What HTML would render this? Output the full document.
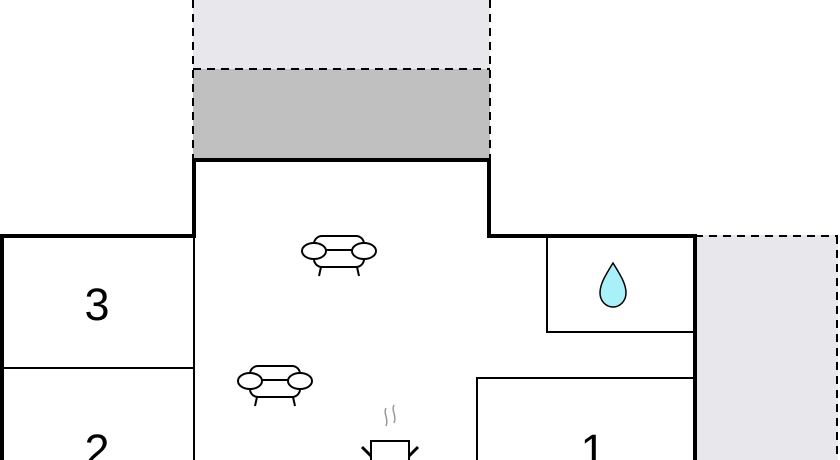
<!DOCTYPE html>
<html><head><style>html,body{margin:0;padding:0;background:#fff;}svg{display:block}</style></head>
<body>
<svg width="840" height="460" viewBox="0 0 840 460" xmlns="http://www.w3.org/2000/svg">
<rect x="0" y="0" width="840" height="460" fill="#fff"/>
<rect x="193" y="0" width="297" height="69" fill="#e8e8ec"/>
<rect x="193" y="69" width="297" height="91" fill="#c0c0c0"/>
<g fill="none" stroke="#000" stroke-width="2" stroke-dasharray="8,6">
<line x1="193" y1="0" x2="193" y2="160"/>
<line x1="490" y1="0" x2="490" y2="160"/>
<line x1="193" y1="69" x2="490" y2="69"/>
</g>
<rect x="695" y="235" width="143" height="225" fill="#e8e8ec"/>
<g fill="none" stroke="#000" stroke-width="2" stroke-dasharray="8,6">
<line x1="695" y1="236" x2="838" y2="236"/>
<line x1="837" y1="236" x2="837" y2="460"/>
</g>
<g fill="none" stroke="#000" stroke-width="2">
<line x1="194" y1="235" x2="194" y2="460"/>
<line x1="2" y1="368" x2="194" y2="368"/>
<polyline points="547,235 547,332 695,332"/>
<polyline points="477,460 477,378 695,378"/>
</g>
<polyline points="2,460 2,236 194,236 194,160 489,160 489,236 695,236 695,460" fill="none" stroke="#000" stroke-width="4"/>
<g font-family="Liberation Sans, sans-serif" font-size="45" text-anchor="middle" fill="#000">
<text x="97" y="320">3</text>
<text x="97" y="466">2</text>
<text x="593" y="466">1</text>
</g>
<g id="sofa" fill="#fff" stroke="#000" stroke-width="2">
<rect x="314" y="236" width="50" height="19" rx="8"/>
<rect x="314" y="250" width="50" height="17" rx="8"/>
<ellipse cx="314" cy="251" rx="12" ry="8"/>
<ellipse cx="364" cy="251" rx="12" ry="8"/>
<line x1="321" y1="267" x2="319" y2="276"/>
<line x1="357" y1="267" x2="359" y2="276"/>
</g>
<use href="#sofa" transform="translate(-64,130)"/>
<path d="M613,263 C605,276 600,284 600,293 C600,301 606,307 613,307 C620,307 626,301 626,293 C626,284 621,276 613,263 Z" fill="#aaf0f8" stroke="#000" stroke-width="1.5"/>
<g fill="none">
<path d="M386,408 c-3,6 3,10 0,18" stroke="#999" stroke-width="1.5"/>
<path d="M394,405 c-3,6 3,10 0,18" stroke="#999" stroke-width="1.5"/>
<rect x="371" y="441" width="38" height="22" stroke="#000" stroke-width="2" fill="#fff"/>
<line x1="362" y1="447" x2="371" y2="456" stroke="#000" stroke-width="3"/>
<line x1="418" y1="447" x2="409" y2="456" stroke="#000" stroke-width="3"/>
</g>
</svg>
</body></html>
